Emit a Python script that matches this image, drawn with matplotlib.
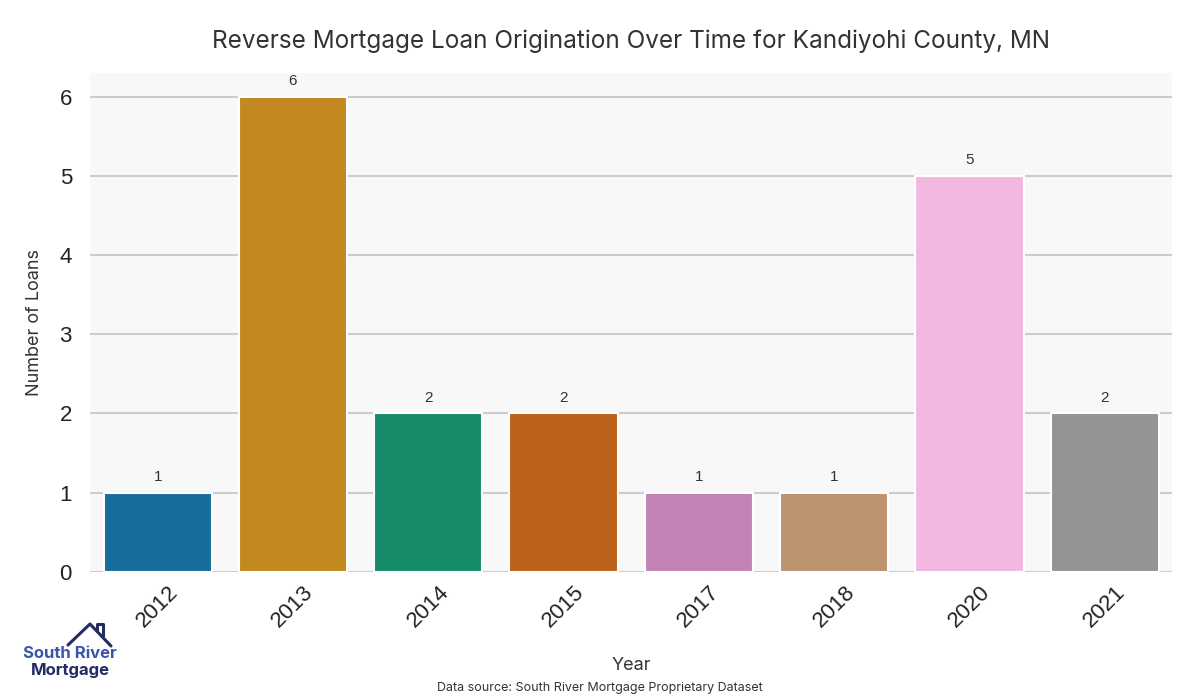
import matplotlib
matplotlib.use("Agg")
import matplotlib.pyplot as plt
import seaborn as sns
from matplotlib.lines import Line2D

# data
years = ["2012", "2013", "2014", "2015", "2017", "2018", "2020", "2021"]
loans = [1, 6, 2, 2, 1, 1, 5, 2]

sns.set_style("whitegrid", {"axes.facecolor": "#f8f8f8", "grid.color": "#cccccc"})
plt.rcParams["font.family"] = ["Liberation Sans", "DejaVu Sans"]

fig = plt.figure(figsize=(12, 7), dpi=100)
ax = fig.add_axes([0.075, 0.183, 0.902, 0.713])

sns.barplot(x=years, y=loans, hue=years, palette="colorblind", legend=False,
            ax=ax, edgecolor="white", linewidth=1.5)

for c in ax.containers:
    ax.bar_label(c, padding=6, fontsize=11, color="#333333")

for s in ax.spines.values():
    s.set_visible(False)
ax.grid(axis="x", visible=False)
ax.grid(axis="y", linewidth=1.5)
ax.set_axisbelow(True)

ax.tick_params(axis="both", labelsize=16, colors="#222222", length=0)
ax.tick_params(axis="y", pad=13)
ax.tick_params(axis="x", pad=7)
plt.setp(ax.get_xticklabels(), rotation=45)

ax.set_title("Reverse Mortgage Loan Origination Over Time for Kandiyohi County, MN",
             fontsize=17.5, family=["Inter", "DejaVu Sans"],
             color="#333333", pad=18)
ax.set_ylabel("Number of Loans", fontsize=13, family=["Inter", "DejaVu Sans"],
              color="#333333", labelpad=12)
ax.set_xlabel("Year", fontsize=13, family=["Inter", "DejaVu Sans"], color="#333333",
              labelpad=18)

fig.text(0.5, 0.013, "Data source: South River Mortgage Proprietary Dataset",
         ha="center", fontsize=9, family=["Inter", "DejaVu Sans"], color="#333333")

# logo
navy = "#232b63"
fig.add_artist(Line2D([68/1200, 90/1200, 111/1200], [1-645/700, 1-624/700, 1-646/700],
                      color=navy, lw=2.2, transform=fig.transFigure))
fig.add_artist(Line2D([97/1200, 97/1200, 103/1200, 103/1200],
                      [1-630/700, 1-624/700, 1-624/700, 1-636/700],
                      color=navy, lw=2.2, transform=fig.transFigure))
fig.text(23/1200, 1-654/700, "South River", fontsize=12, fontweight="bold",
         color="#3a56a8", va="center", family=["Inter", "DejaVu Sans"])
fig.text(110/1200, 1-670/700, "Mortgage", fontsize=12, fontweight="bold",
         color=navy, va="center", ha="right", family=["Inter", "DejaVu Sans"])

fig.savefig("out.png", dpi=100)
